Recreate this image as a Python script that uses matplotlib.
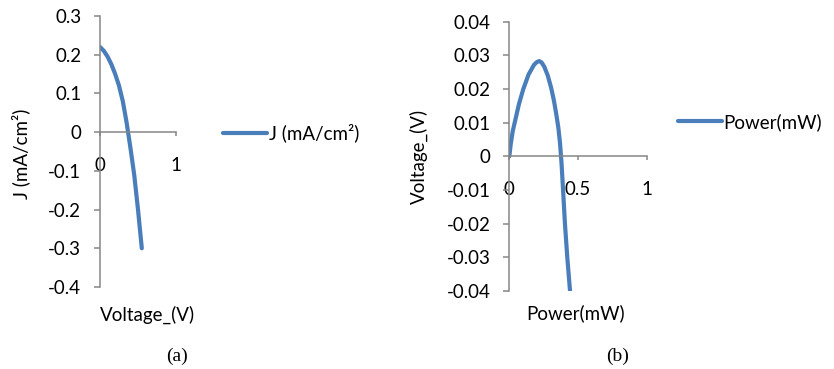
import matplotlib
matplotlib.use("Agg")
import matplotlib.pyplot as plt
from matplotlib.ticker import FuncFormatter

plt.rcParams['font.family'] = ['Lato', 'DejaVu Sans']
plt.rcParams['axes.unicode_minus'] = False

# J-V curve (a)
voltage = [0, 0.05, 0.1, 0.15, 0.2, 0.25, 0.3, 0.35, 0.4, 0.45, 0.5, 0.55]
current = [0.22, 0.21, 0.195, 0.175, 0.15, 0.12, 0.08, 0.025, -0.04, -0.11, -0.2, -0.30]

# power curve (b)
power = [0, 0.01, 0.025, 0.042, 0.07, 0.102, 0.14, 0.18, 0.2, 0.218, 0.235, 0.255,
         0.28, 0.305, 0.325, 0.342, 0.357, 0.369, 0.38, 0.39, 0.405, 0.422, 0.442]
power_v = [0, 0.0035, 0.0075, 0.0105, 0.0155, 0.02, 0.0243, 0.0272, 0.028, 0.0283,
           0.0279, 0.0266, 0.024, 0.0203, 0.0165, 0.0125, 0.0085, 0.004, -0.002,
           -0.009, -0.02, -0.03, -0.04]

yticks_a = [-0.4, -0.3, -0.2, -0.1, 0, 0.1, 0.2, 0.3]
xticks_a = [0, 1]
yticks_b = [-0.04, -0.03, -0.02, -0.01, 0, 0.01, 0.02, 0.03, 0.04]
xticks_b = [0, 0.5, 1]

W, H = 834, 369
blue = '#4a7ebb'
grey = '#868686'
fs = 13.5

fig = plt.figure(figsize=(W / 100, H / 100), dpi=100)


def px_axes(left, top, right, bottom):
    return fig.add_axes([left / W, 1 - bottom / H, (right - left) / W, (bottom - top) / H])


def style(ax, xt, yt, ylim):
    ax.set_xlim(0, 1)
    ax.set_ylim(*ylim)
    ax.set_xticks(xt)
    ax.set_yticks(yt)
    fmt = FuncFormatter(lambda v, p: '%g' % round(v, 3))
    ax.xaxis.set_major_formatter(fmt)
    ax.yaxis.set_major_formatter(fmt)
    for s in ['top', 'right']:
        ax.spines[s].set_visible(False)
    ax.spines['bottom'].set_position(('data', 0))
    for s in ['left', 'bottom']:
        ax.spines[s].set_color(grey)
        ax.spines[s].set_linewidth(1.1)
    ax.tick_params(axis='y', direction='out', length=4.5, width=1.1, color=grey,
                   pad=9, labelsize=fs)
    ax.tick_params(axis='x', direction='out', length=3, width=1.1, color=grey,
                   pad=15, labelsize=fs)
    ax.patch.set_alpha(0)


# (a)
ax1 = px_axes(100, 16, 176, 287)
ax1.plot(voltage, current, color=blue, lw=3, solid_capstyle='round',
         solid_joinstyle='round', label='J (mA/cm²)')
style(ax1, xticks_a, yticks_a, (-0.4, 0.3))
ax1.set_ylabel('J (mA/cm²)', fontsize=fs)
ax1.yaxis.set_label_coords((30 - 100) / 76, 0.49)
fig.text(148 / W, 1 - 315 / H, 'Voltage_(V)', ha='center', va='center', fontsize=fs)
fig.text(177 / W, 1 - 356 / H, '(a)', ha='center', va='center', fontsize=14,
         family='Liberation Serif')
ax1.legend(loc='center left', bbox_to_anchor=(223 / W, 1 - 133 / H),
           bbox_transform=fig.transFigure, frameon=False, fontsize=fs,
           handlelength=2.35, handletextpad=0.08, borderpad=0, borderaxespad=0)

# (b)
ax2 = px_axes(509.3, 21.7, 646.7, 291)
ax2.plot(power, power_v, color=blue, lw=3, solid_capstyle='round',
         solid_joinstyle='round', label='Power(mW)')
style(ax2, xticks_b, yticks_b, (-0.04, 0.04))
ax2.set_ylabel('Voltage_(V)', fontsize=fs)
ax2.yaxis.set_label_coords((428 - 509.3) / 137.4, 0.5)
fig.text(575.7 / W, 1 - 313 / H, 'Power(mW)', ha='center', va='center', fontsize=fs)
fig.text(618 / W, 1 - 356 / H, '(b)', ha='center', va='center', fontsize=14,
         family='Liberation Serif')
ax2.legend(loc='center left', bbox_to_anchor=(677.7 / W, 1 - 122 / H),
           bbox_transform=fig.transFigure, frameon=False, fontsize=fs,
           handlelength=2.35, handletextpad=0.08, borderpad=0, borderaxespad=0)

fig.savefig('out.png', dpi=100)
